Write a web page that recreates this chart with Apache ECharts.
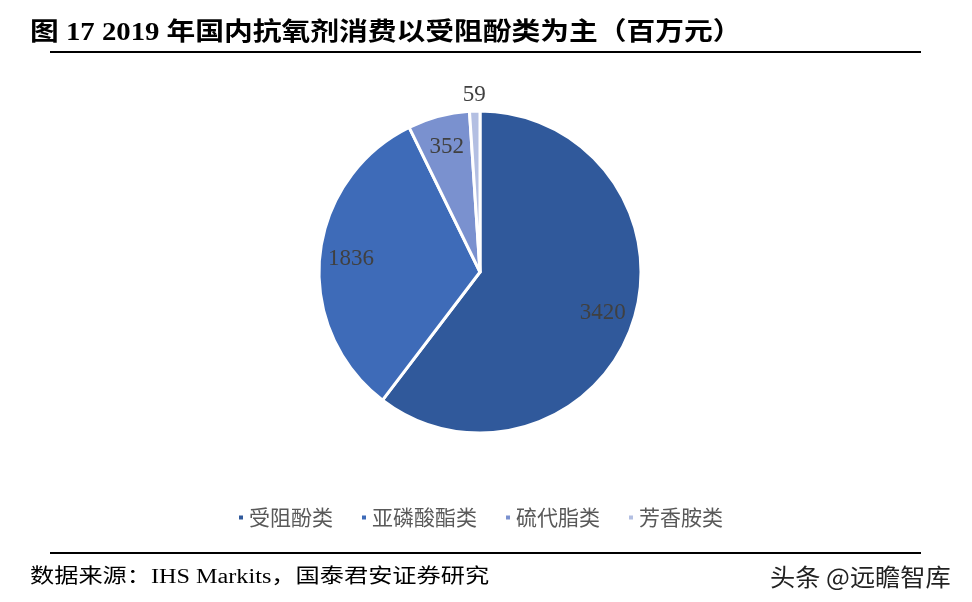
<!DOCTYPE html>
<html><head><meta charset="utf-8">
<script src="https://cdn.jsdelivr.net/npm/echarts@6/dist/echarts.min.js"></script>
<style>html,body{margin:0;padding:0;background:#fff}#c{width:972px;height:602px}</style>
</head><body><div id="c"></div>
<script>
const categories = ['受阻酚类', '亚磷酸酯类', '硫代脂类', '芳香胺类'];
const values = [3420, 1836, 352, 59];
const colors = ['#30599B', '#3E6BB8', '#7A91CF', '#B3BFE2'];
const titleText = '图 17 2019 年国内抗氧剂消费以受阻酚类为主（百万元）';
const sourceText = '数据来源：IHS Markits，国泰君安证券研究';
const watermark = '头条 @远瞻智库';

const chart = echarts.init(document.getElementById('c'));
const data = categories.map((n, i) => ({name: n, value: values[i], itemStyle: {color: colors[i]}}));
const innerLabelData = categories.map((n, i) => ({
  name: n, value: values[i], label: {show: i !== 3}
}));
const outerLabelData = categories.map((n, i) => ({
  name: n, value: values[i], label: {show: i === 3}
}));
const labelStyle = {formatter: '{c}', position: 'inside', fontFamily: 'Liberation Serif', fontSize: 23, color: '#404040'};
chart.setOption({
  animation: false,
  legend: {
    data: categories, left: 232, top: 502, icon: 'rect', itemWidth: 6, itemHeight: 6, itemGap: 27,
    textStyle: {fontFamily: 'Noto Sans CJK SC', fontSize: 21, color: '#595959'}
  },
  graphic: [
    {type: 'text', x: 30, y: 34, scaleX: 1.15, originX: 0, originY: 0,
     style: {text: titleText, font: 'bold 25px "Liberation Serif", "Noto Sans CJK SC"', fill: '#000', textVerticalAlign: 'middle'}},
    {type: 'line', shape: {x1: 50, y1: 52, x2: 921, y2: 52}, style: {stroke: '#000', lineWidth: 2}},
    {type: 'line', shape: {x1: 50, y1: 553, x2: 921, y2: 553}, style: {stroke: '#000', lineWidth: 2}},
    {type: 'text', x: 30, y: 578, scaleX: 1.21, originX: 0, originY: 0,
     style: {text: sourceText, font: '20px "Liberation Serif", "Noto Sans CJK SC"', fill: '#000', textVerticalAlign: 'middle'}},
    {type: 'text', x: 770, y: 577, scaleX: 1.05, originX: 0, originY: 0,
     style: {text: watermark, font: '24px "Noto Sans CJK SC"', fill: '#222', textVerticalAlign: 'middle'}}
  ],
  series: [
    {
      type: 'pie', center: [480, 272], radius: [0, 161], startAngle: 90, clockwise: true,
      data: data, label: {show: false}, labelLine: {show: false},
      itemStyle: {borderColor: '#fff', borderWidth: 3}, emphasis: {disabled: true}
    },
    {
      type: 'pie', center: [480, 272], radius: [92, 161], startAngle: 90, clockwise: true,
      data: innerLabelData, silent: true, legendHoverLink: false,
      itemStyle: {color: 'rgba(0,0,0,0)'},
      label: labelStyle, labelLine: {show: false}, emphasis: {disabled: true}
    },
    {
      type: 'pie', center: [480, 272], radius: [163, 185], startAngle: 90, clockwise: true,
      data: outerLabelData, silent: true, legendHoverLink: false,
      itemStyle: {color: 'rgba(0,0,0,0)'},
      label: labelStyle, labelLine: {show: false}, emphasis: {disabled: true}
    }
  ]
});
</script></body></html>
